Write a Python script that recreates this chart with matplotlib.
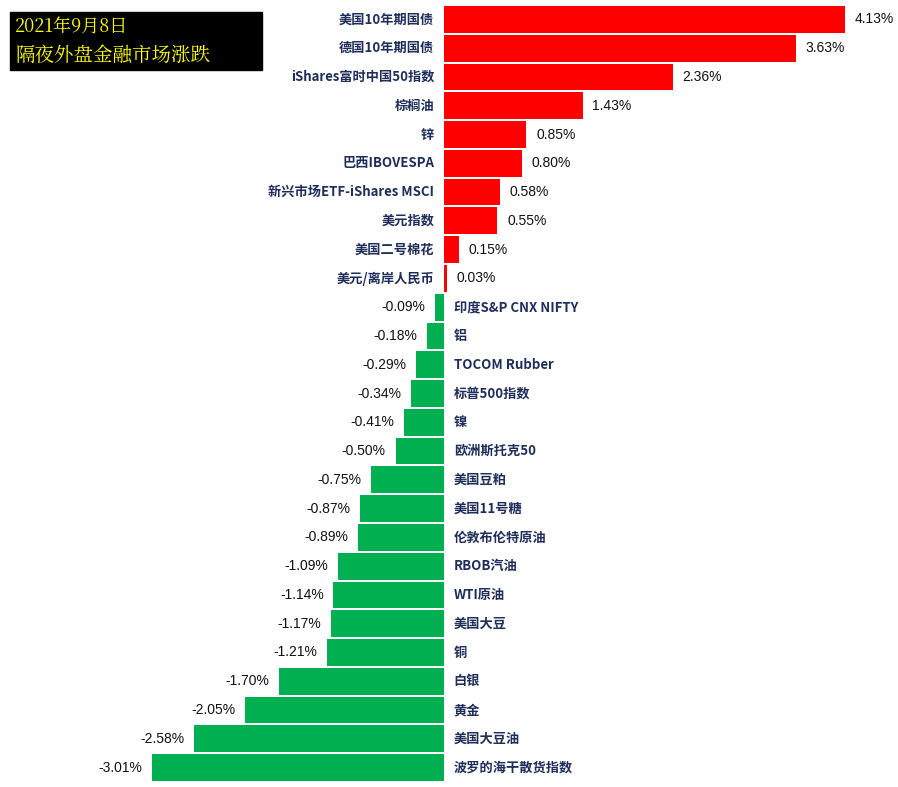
import matplotlib
matplotlib.use("Agg")
import matplotlib.pyplot as plt

categories = ["美国10年期国债","德国10年期国债","iShares富时中国50指数","棕榈油","锌","巴西IBOVESPA",
              "新兴市场ETF-iShares MSCI","美元指数","美国二号棉花","美元/离岸人民币","印度S&P CNX NIFTY",
              "铝","TOCOM Rubber","标普500指数","镍","欧洲斯托克50","美国豆粕","美国11号糖","伦敦布伦特原油",
              "RBOB汽油","WTI原油","美国大豆","铜","白银","黄金","美国大豆油","波罗的海干散货指数"]
values = [4.13,3.63,2.36,1.43,0.85,0.80,0.58,0.55,0.15,0.03,-0.09,-0.18,-0.29,-0.34,-0.41,-0.50,
          -0.75,-0.87,-0.89,-1.09,-1.14,-1.17,-1.21,-1.70,-2.05,-2.58,-3.01]
title_lines = ["2021年9月8日", "隔夜外盘金融市场涨跌"]

plt.rcParams["font.family"] = ["Noto Sans CJK SC", "DejaVu Sans"]
fig = plt.figure(figsize=(8.98, 7.87), dpi=100)
H = 787.0
top, bot = 5, 782
ax = fig.add_axes([0, 1 - bot / H, 1, (bot - top) / H])
n = len(values)
ys = list(range(n))
colors = ["#FF0000" if v >= 0 else "#00B050" for v in values]
ax.barh(ys, values, height=0.93, color=colors)
ax.set_ylim(n - 0.5, -0.5)
ax.set_xlim(-444 / 97.0, 454 / 97.0)
ax.axis("off")
navy = "#1F2D5A"
for y, c, v in zip(ys, categories, values):
    if v >= 0:
        ax.text(-0.1, y, c, ha="right", va="center", fontsize=9.5, fontweight="bold", color=navy)
        ax.text(v + 0.1, y, f"{v:.2f}%", ha="left", va="center", fontsize=10, color="#111111",
                family="Liberation Sans")
    else:
        ax.text(0.1, y, c, ha="left", va="center", fontsize=9.5, fontweight="bold", color=navy)
        ax.text(v - 0.1, y, f"{v:.2f}%", ha="right", va="center", fontsize=10, color="#111111",
                family="Liberation Sans")

fig.patches.append(matplotlib.patches.Rectangle((10 / 898, 1 - 70 / H), 252 / 898, 58 / H,
                                                transform=fig.transFigure, color="black"))
fig.text(15 / 898, 1 - 28 / H, title_lines[0], color="#FFFF00", fontsize=13, va="center",
         family=["Noto Serif CJK SC", "Noto Sans CJK SC"])
fig.text(15 / 898, 1 - 56 / H, title_lines[1], color="#FFFF00", fontsize=14, va="center",
         family=["Noto Serif CJK SC", "Noto Sans CJK SC"])
fig.savefig("out.png", dpi=100, facecolor="white")
